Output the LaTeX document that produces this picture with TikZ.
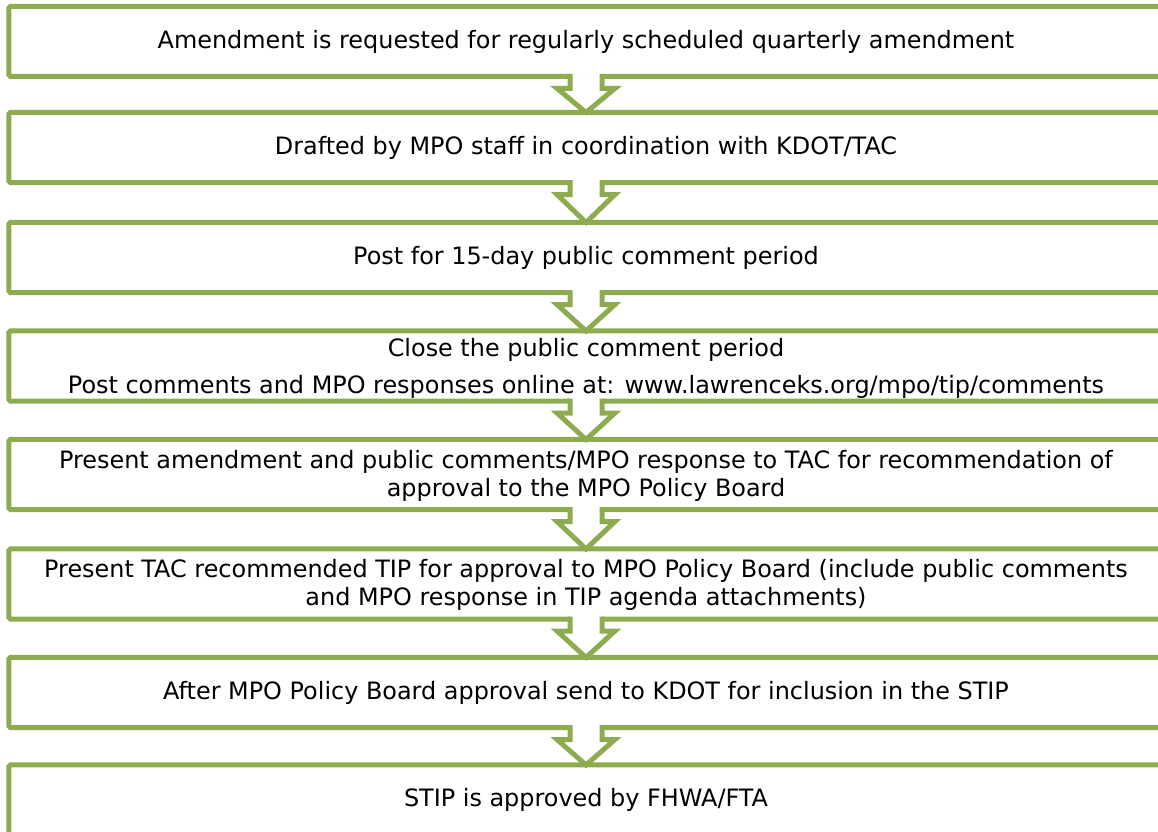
\documentclass[tikz,border=0pt]{standalone}
\usepackage{fontspec}
\setmainfont{DejaVu Sans}
\usetikzlibrary{calc}
\definecolor{stepgreen}{RGB}{140,172,79}
\tikzset{
    stepbox/.style={draw=stepgreen, line width=0.125cm, rounded corners=0.04cm, outer sep=0pt,
        minimum width=28.85cm, minimum height=1.75cm, align=center,
        text height=12pt, text depth=2.2pt, font=\fontsize{17}{19.9}\selectfont},
    twolines/.style={text height=32pt, text depth=1.1pt},
    chevron/.style={draw=stepgreen, line width=0.125cm, line join=miter}
}

\begin{document}
\begin{tikzpicture}[x=0.025cm, y=-0.025cm]
    % \draw[help lines, color=gray!30, dashed] (0,0) grid[step=50] (1158,832);
    \useasboundingbox (0,0) rectangle (1158,832);

    \node[stepbox] (b1) at (586,41.4) {Amendment is requested for regularly scheduled quarterly amendment};
    \node[stepbox] (b2) at (586,147.5) {Drafted by MPO staff in coordination with KDOT/TAC};
    \node[stepbox] (b3) at (586,257.5) {Post for 15-day public comment period};
    \node[stepbox, text height=40pt, text depth=1.4pt] (b4) at (586,366) {Close the public comment period\\[6.1pt]Post comments and MPO responses online at: www.lawrenceks.org/mpo/tip/comments};
    \node[stepbox, twolines] (b5) at (586,474.5) {Present amendment and public comments/MPO response to TAC for recommendation of\\approval to the MPO Policy Board};
    \node[stepbox, twolines] (b6) at (586,584) {Present TAC recommended TIP for approval to MPO Policy Board (include public comments\\and MPO response in TIP agenda attachments)};
    \node[stepbox] (b7) at (586,692.5) {After MPO Policy Board approval send to KDOT for inclusion in the STIP};
    \node[stepbox] (b8) at (586,800) {STIP is approved by FHWA/FTA};

    \foreach \i/\j in {1/2, 2/3, 3/4, 4/5, 5/6, 6/7, 7/8}{
        \fill[white] ($(b\i.south)+(-16,-3)$) -- ($(b\i.south)+(-16,12)$) -- ($(b\i.south)+(-29,12)$)
            -- (b\j.north) -- ($(b\i.south)+(29,12)$) -- ($(b\i.south)+(16,12)$) -- ($(b\i.south)+(16,-3)$) -- cycle;
        \draw[chevron] ($(b\i.south)+(-16,-2.5)$) -- ($(b\i.south)+(-16,12)$) -- ($(b\i.south)+(-29,12)$)
            -- (b\j.north) -- ($(b\i.south)+(29,12)$) -- ($(b\i.south)+(16,12)$) -- ($(b\i.south)+(16,-2.5)$);
    }
\end{tikzpicture}
\end{document}
